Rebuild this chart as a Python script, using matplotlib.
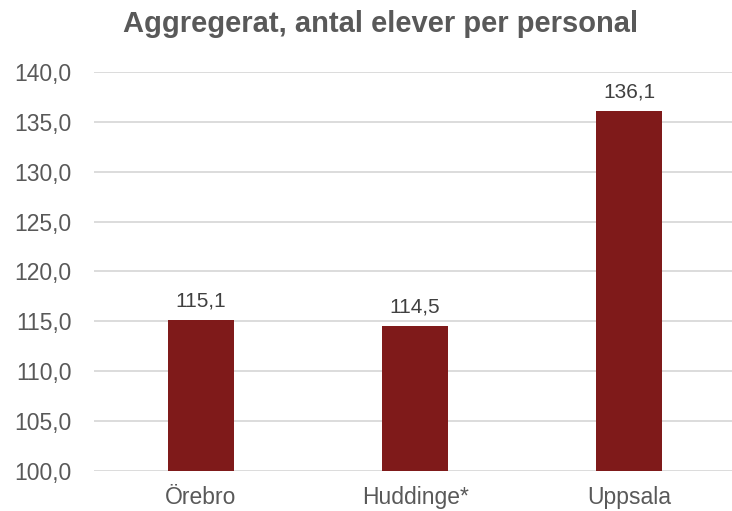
import matplotlib.pyplot as plt

categories = ['Örebro', 'Huddinge*', 'Uppsala']
values = [115.1, 114.5, 136.1]
yticks = [100, 105, 110, 115, 120, 125, 130, 135, 140]

def fmt(v):
	return ('%.1f' % v).replace('.', ',')

plt.rcParams['font.family'] = ['Liberation Sans', 'DejaVu Sans']

fig = plt.figure(figsize=(7.32, 5.11), dpi=100)
ax = fig.add_axes([94/732, 1 - 471/511, 638/732, 399/511])

x = range(len(categories))
ax.bar(x, values, width=0.31, color='#7F1A1A', zorder=3)
ax.set_ylim(100, 140)
ax.set_xlim(-0.5, 2.48)
ax.set_yticks(yticks)
ax.set_yticklabels([fmt(t) for t in yticks], fontsize=16.5, color='#595959')
ax.set_xticks(list(x))
ax.set_xticklabels(categories, fontsize=16.5, color='#595959')
ax.tick_params(axis='y', length=0, pad=16)
ax.tick_params(axis='x', length=0, pad=11)
ax.grid(axis='y', color='#D9D9D9', linewidth=1.3, zorder=0)
for s in ax.spines.values():
	s.set_visible(False)

for i, v in enumerate(values):
	ax.annotate(fmt(v), xy=(i, v), xytext=(0, 10), textcoords='offset points',
		ha='center', va='baseline', fontsize=15, color='#404040')

fig.text(381/732, 1 - 24/511, 'Aggregerat, antal elever per personal', ha='center', va='center',
	fontsize=21, fontweight='bold', color='#595959')

fig.savefig('out.png', dpi=100)
